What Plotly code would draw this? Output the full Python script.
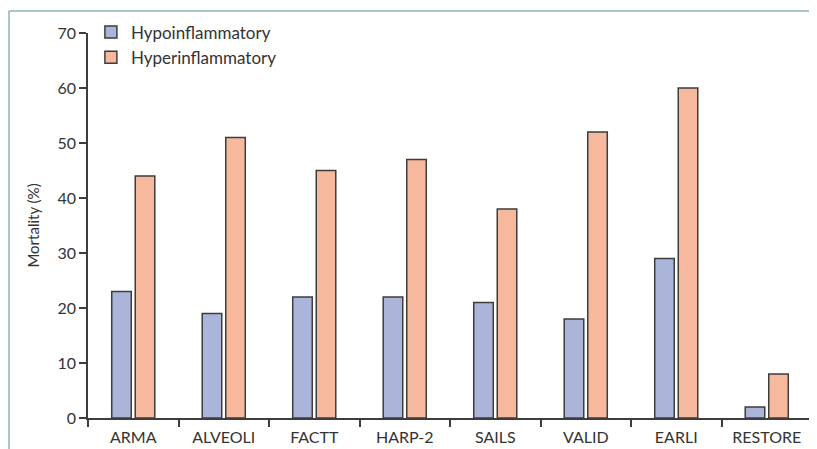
import plotly.graph_objects as go

categories = ["ARMA", "ALVEOLI", "FACTT", "HARP-2", "SAILS", "VALID", "EARLI", "RESTORE"]
hypo = [23, 19, 22, 22, 21, 18, 29, 2]
hyper = [44, 51, 45, 47, 38, 52, 60, 8]
y_ticks = [0, 10, 20, 30, 40, 50, 60, 70]

# page has an 8px body margin; figure sized/positioned to compensate
W, H = 809, 441
L, R, T, B = 80, 5, 25, 31
pw = W - L - R
ph = H - T - B

font = dict(family="Lato, Noto Sans, sans-serif", size=16, color="#333333")
line = dict(color="#3d3d3d", width=1.5)

fig = go.Figure()
fig.add_bar(x=categories, y=hypo, name="Hypoinflammatory",
            marker=dict(color="#abb5d9", line=line))
fig.add_bar(x=categories, y=hyper, name="Hyperinflammatory",
            marker=dict(color="#f6b99e", line=line))

fig.update_layout(
    width=W, height=H,
    margin=dict(l=L, r=R, t=T, b=B, autoexpand=False),
    paper_bgcolor="white", plot_bgcolor="white",
    font=font,
    barmode="group", bargap=0.48, bargroupgap=0.17,
    showlegend=True,
    legend=dict(x=0.004, y=1.048, xanchor="left", yanchor="top",
                font=dict(size=17, color="#333333"), bgcolor="rgba(0,0,0,0)",
                itemwidth=30, tracegroupgap=0),
    xaxis=dict(showline=True, linecolor="#3d3d3d", linewidth=1.5,
               ticks="outside", tickson="boundaries", ticklen=7,
               tickcolor="#3d3d3d", tickwidth=1.5, ticklabelstandoff=4,
               showgrid=False, tickfont=dict(size=16)),
    yaxis=dict(range=[0, 70], tickvals=y_ticks, showline=True,
               linecolor="#3d3d3d", linewidth=1.5, ticks="outside",
               ticklen=7, tickcolor="#3d3d3d", tickwidth=1.5,
               showgrid=False, zeroline=False, tickfont=dict(size=16),
               title=dict(text="Mortality (%)", font=dict(size=15), standoff=14)),
)

# frame lines at top and left (paper coords)
fx = (1 - L) / pw
fy = (H - B - 3) / ph
fig.add_shape(type="line", xref="paper", yref="paper", x0=fx, x1=(809 - L) / pw,
              y0=fy, y1=fy, line=dict(color="#8cb9a2", width=1.5))
fig.add_shape(type="line", xref="paper", yref="paper", x0=fx, x1=fx,
              y0=fy, y1=(H - B - 445) / ph, line=dict(color="#8cb9a2", width=1.5))

fig.write_html("out.html")
